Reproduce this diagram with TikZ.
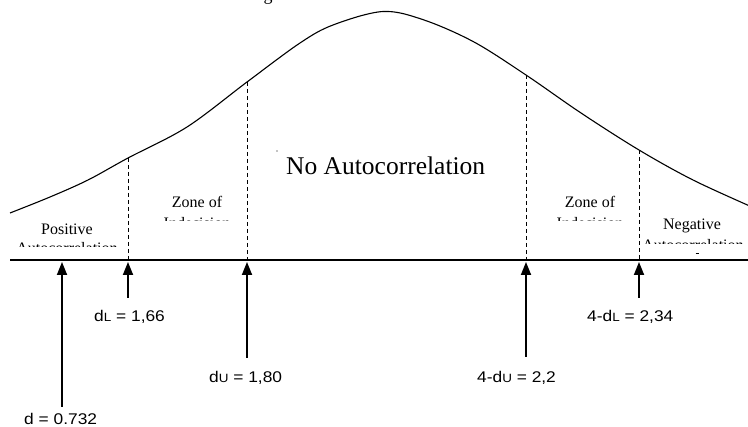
\documentclass[tikz,border=0pt]{standalone}
\usepackage{fontspec}
\setmainfont{Liberation Serif}
\newfontfamily\lsans[FakeStretch=1.12]{Liberation Sans}
\usetikzlibrary{arrows.meta}
\newcommand{\smallsub}[1]{{\fontsize{12}{12}\selectfont #1}}
\begin{document}
\begin{tikzpicture}[x=1pt,y=-1pt,
  curve/.style={line width=1.1pt},
  axis/.style={line width=1.6pt},
  zline/.style={dash pattern=on 4pt off 3pt, line width=0.9pt},
  uparrow/.style={line width=1.8pt, -{Triangle[width=10pt,length=13pt]}},
  zone/.style={font=\fontsize{16}{19}\selectfont, inner sep=0pt, anchor=base},
  lab/.style={font=\lsans\fontsize{15.5}{15.5}\selectfont, inner sep=0pt, anchor=base west}]
\useasboundingbox (0,0) rectangle (748,427);
\clip (0,0) rectangle (748,427);
% title fragment
\node[inner sep=0pt, anchor=base, font=\fontsize{18}{18}\selectfont] (title) at (268,1) {g};
% curve
\draw[curve] plot[smooth, tension=0.55] coordinates {(10,213) (50,197) (88,180) (128,158) (187,127) (247,82) (300,43) (333,25) (383,11.5) (424,20) (474,42) (526,75) (581,113) (639,150) (693,180) (752,207)};
% axis
\coordinate (axL) at (10,260);
\coordinate (axR) at (748,260);
\draw[axis] (axL) -- (axR);
% dashed boundaries
\coordinate (c1) at (128,158); \coordinate (a1) at (128,260);
\coordinate (c2) at (247,82);  \coordinate (a2) at (247,260);
\coordinate (c3) at (526,75);  \coordinate (a3) at (526,260);
\coordinate (c4) at (639,150); \coordinate (a4) at (639,260);
\draw[zline] (c1) -- (a1);
\draw[zline] (c2) -- (a2);
\draw[zline] (c3) -- (a3);
\draw[zline] (c4) -- (a4);
% zone texts
\node[zone] (pos) at (67,235) {Positive};
\begin{scope}
  \clip (0,236) rectangle (126,247);
  \node[zone] (pos2) at (67,254) {Autocorrelation};
\end{scope}
\node[zone] (zl) at (197,208) {Zone of};
\begin{scope}
  \clip (130,210) rectangle (245,221);
  \node[zone] (zl2) at (197,228.5) {Indecision};
\end{scope}
\node[zone] (zr) at (590,208) {Zone of};
\begin{scope}
  \clip (528,210) rectangle (637,221);
  \node[zone] (zr2) at (590,228.5) {Indecision};
\end{scope}
\node[zone] (neg) at (692,230) {Negative};
\begin{scope}
  \clip (641,232) rectangle (748,244);
  \node[zone] (neg2) at (693,251) {Autocorrelation};
\end{scope}
\coordinate (m1) at (695.5,253); \coordinate (m2) at (698.5,253);
\draw[line width=0.8pt] (m1) -- (m2);
% central text
\fill (277,151) circle (0.7pt);
\node[inner sep=0pt, anchor=base west, font=\fontsize{25.5}{25.5}\selectfont] (noac) at (286,175) {No Autocorrelation};
% arrows
\coordinate (t0) at (62,262);  \coordinate (b0) at (62,407);
\coordinate (t1) at (128,262); \coordinate (b1) at (128,298);
\coordinate (t2) at (247,262); \coordinate (b2) at (247,358);
\coordinate (t3) at (526,262); \coordinate (b3) at (526,357);
\coordinate (t4) at (639,262); \coordinate (b4) at (639,298);
\draw[uparrow] (b0) -- (t0);
\draw[uparrow] (b1) -- (t1);
\draw[uparrow] (b2) -- (t2);
\draw[uparrow] (b3) -- (t3);
\draw[uparrow] (b4) -- (t4);
% labels
\node[lab] (l0) at (24,425) {d = 0.732};
\node[lab] (l1) at (94,322) {d\smallsub{L} = 1,66};
\node[lab] (l2) at (209,383) {d\smallsub{U} = 1,80};
\node[lab] (l3) at (477,383) {4-d\smallsub{U} = 2,2};
\node[lab] (l4) at (587,322) {4-d\smallsub{L} = 2,34};
\end{tikzpicture}
\end{document}
